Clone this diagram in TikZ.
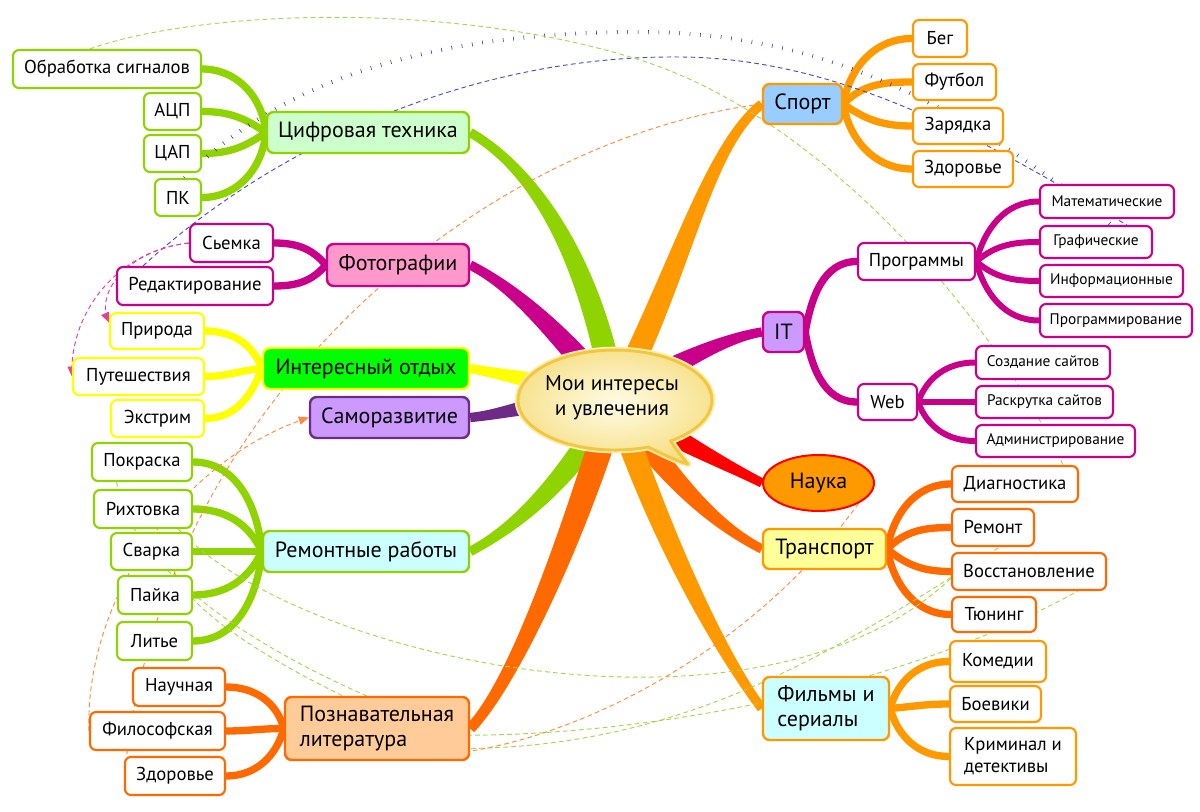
\documentclass[tikz,border=0pt]{standalone}
\usepackage{fontspec}
\setmainfont{PT Sans}
\usetikzlibrary{calc,shapes.geometric,arrows}

\definecolor{grn}{HTML}{8FD400}
\definecolor{mag}{HTML}{C8008A}
\definecolor{ylw}{HTML}{FFFF00}
\definecolor{prp}{HTML}{6E2A86}
\definecolor{org}{HTML}{FF9900}
\definecolor{drk}{HTML}{FF6A00}
\definecolor{scarlet}{HTML}{FF0000}
\definecolor{mint}{HTML}{CCFFCC}
\definecolor{rose}{HTML}{FF99CC}
\definecolor{neon}{HTML}{00FF00}
\definecolor{lilac}{HTML}{CC99FF}
\definecolor{ice}{HTML}{CCFFFF}
\definecolor{apricot}{HTML}{FFCC99}
\definecolor{sky}{HTML}{99CCFF}
\definecolor{cream}{HTML}{FFFF99}
\definecolor{relgrn}{HTML}{A5D64C}
\definecolor{relorg}{HTML}{FF8A3D}
\definecolor{relblu}{HTML}{4A4ACF}
\definecolor{dotblu}{HTML}{22229A}
\definecolor{relpnk}{HTML}{E0409A}
\definecolor{bubIn}{HTML}{FFFCE6}
\definecolor{bubOut}{HTML}{F7DF85}
\definecolor{bubLine}{HTML}{F3C63F}
\definecolor{bubGlow}{HTML}{FBEDB0}

% tapered main branch: colour, from, out angle, out length, to, in angle, in length, half width at from, half width at to
\newcommand{\limb}[9]{%
  \path (#2) ++(#3:#4) coordinate (limbA) (#5) ++(#6:#7) coordinate (limbB);
  \fill[#1] ($(#2)!#8!90:(limbA)$) .. controls ($(limbA)!#8!-90:(#2)$) and ($(limbB)!#9!90:(#5)$) .. ($(#5)!#9!-90:(limbB)$)
    -- ($(#5)!#9!90:(limbB)$) .. controls ($(limbB)!#9!-90:(#5)$) and ($(limbA)!#8!90:(#2)$) .. ($(#2)!#8!-90:(limbA)$) -- cycle;}

\pgfdeclarelayer{bg}
\pgfdeclarelayer{rel}
\pgfsetlayers{bg,rel,main}

\tikzset{
  topic/.style={draw=#1, line width=1.8pt, rounded corners=5pt, inner sep=2pt, font=\fontsize{16.5}{19}\selectfont},
  leaf/.style={draw=#1, fill=white, line width=1.6pt, rounded corners=4.5pt, inner sep=2pt, font=\fontsize{14}{16.5}\selectfont},
  small leaf/.style={leaf=#1, font=\fontsize{11.5}{13.5}\selectfont},
  twig/.style={draw=#1, line width=5.5pt},
  rel/.style={draw=#1, line width=0.7pt, dash pattern=on 3.5pt off 2.5pt},
  dots/.style={draw=dotblu, line width=3pt, dash pattern=on 0.4pt off 7.4pt},
  wh/.style 2 args={minimum width=#1*0.75pt, minimum height=#2*0.75pt},
}

\begin{document}
\begin{tikzpicture}[line cap=round,line join=round,>=triangle 45,x=0.75pt,y=0.75pt]
\useasboundingbox (0,0) rectangle (1200,-812);
\coordinate (hub) at (615,-400);

% left side
\node[topic=grn, fill=mint, wh={202}{41}] (cif) at (368,-132.5) {Цифровая техника};
\node[leaf=grn, wh={188}{38}] (obr) at (107,-69) {Обработка сигналов};
\node[leaf=grn, wh={57}{37}] (acp) at (172.5,-111.5) {АЦП};
\node[leaf=grn, wh={57}{37}] (cap) at (172.5,-153.5) {ЦАП};
\node[leaf=grn, wh={46}{37}] (pk) at (178,-197.5) {ПК};

\node[topic=mag, fill=rose, wh={142}{42}] (foto) at (398,-265) {Фотографии};
\node[leaf=mag, wh={83}{38}] (shoot) at (231.5,-243) {Сьемка};
\node[leaf=mag, wh={156}{38}] (edit) at (195,-286) {Редактирование};

\node[topic=ylw, fill=neon, wh={206}{41}] (otd) at (366,-368.5) {Интересный отдых};
\node[leaf=ylw, wh={94}{36}] (pri) at (157,-331) {Природа};
\node[leaf=ylw, wh={131}{37}] (put) at (138.5,-376.5) {Путешествия};
\node[leaf=ylw, wh={93}{37}] (eks) at (157.5,-418.5) {Экстрим};

\node[topic=prp, fill=lilac, wh={159}{41}] (sam) at (389.5,-417.5) {Саморазвитие};

\node[topic=grn, fill=ice, wh={206}{41}] (rem) at (366,-551.5) {Ремонтные работы};
\node[leaf=grn, wh={100}{38}] (pok) at (142,-462) {Покраска};
\node[leaf=grn, wh={98}{38}] (rih) at (143,-509) {Рихтовка};
\node[leaf=grn, wh={81}{37}] (sva) at (151.5,-551.5) {Сварка};
\node[leaf=grn, wh={74}{38}] (pay) at (155,-595) {Пайка};
\node[leaf=grn, wh={75}{38}] (lit) at (154.5,-641) {Литье};

\node[topic=drk, fill=apricot, wh={184}{63}, align=left] (poz) at (377,-728.5) {Познавательная\\литература};
\node[leaf=drk, wh={92}{38}] (nau) at (179,-687) {Научная};
\node[leaf=drk, wh={135}{38}] (fil) at (157.5,-731) {Философская};
\node[leaf=drk, wh={100}{38}] (zdl) at (175,-776) {Здоровье};

% right side
\node[topic=org, fill=sky, wh={79}{40}] (spo) at (802.5,-104) {Спорт};
\node[leaf=org, wh={54}{37}] (beg) at (940,-38.5) {Бег};
\node[leaf=org, wh={83}{36}] (fut) at (954.5,-82) {Футбол};
\node[leaf=org, wh={90}{36}] (zar) at (958,-126) {Зарядка};
\node[leaf=org, wh={100}{36}] (zds) at (963,-169) {Здоровье};

\node[topic=mag, fill=lilac, wh={41}{40}] (it) at (783.5,-332) {IT};
\node[leaf=mag, wh={117}{37}] (pro) at (916.5,-261.5) {Программы};
\node[small leaf=mag, wh={134}{33}] (mat) at (1107,-201.5) {Математические};
\node[small leaf=mag, wh={112}{32}] (gra) at (1096,-242) {Графические};
\node[small leaf=mag, wh={143}{32}] (inf) at (1111.5,-281) {Информационные};
\node[small leaf=mag, wh={152}{33}] (prg) at (1116,-320.5) {Программирование};
\node[leaf=mag, wh={59}{36}] (web) at (887.5,-402) {Web};
\node[small leaf=mag, wh={134}{33}] (soz) at (1043,-362.5) {Создание сайтов};
\node[small leaf=mag, wh={137}{32}] (ras) at (1044.5,-402) {Раскрутка сайтов};
\node[small leaf=mag, wh={159}{32}] (adm) at (1055.5,-441) {Администрирование};

\node[ellipse, draw=scarlet, fill=org, line width=1.5pt, wh={111}{56}, font=\fontsize{16.5}{19}\selectfont] (nauka) at (818.5,-483) {Наука};

\node[topic=org, fill=cream, wh={123}{40}] (tra) at (824.5,-549) {Транспорт};
\node[leaf=drk, wh={126}{36}] (dia) at (1015,-484) {Диагностика};
\node[leaf=drk, wh={82}{37}] (rmt) at (993,-527.5) {Ремонт};
\node[leaf=drk, wh={154}{37}] (vos) at (1029,-571.5) {Восстановление};
\node[leaf=drk, wh={84}{35}] (tyu) at (994,-614.5) {Тюнинг};

\node[topic=org, fill=ice, wh={126}{63}, align=left] (fsr) at (826,-708.5) {Фильмы и\\сериалы};
\node[leaf=org, wh={96}{41}] (kom) at (998,-661.5) {Комедии};
\node[leaf=org, wh={91}{36}] (boe) at (995.5,-704) {Боевики};
\node[leaf=org, wh={126}{57}, align=left] (kri) at (1013,-756.5) {Криминал и\\детективы};

\begin{pgfonlayer}{bg}
% main branches
\limb{grn}{cif.east}{-30}{70}{hub}{100}{150}{3.5pt}{9pt}
\limb{mag}{foto.east}{-27}{50}{hub}{130}{90}{3.5pt}{9pt}
\limb{ylw}{otd.east}{-10}{40}{hub}{166}{60}{3.5pt}{9pt}
\limb{prp}{sam.east}{5}{40}{hub}{175}{60}{3.5pt}{9pt}
\limb{grn}{rem.east}{28}{50}{hub}{239}{100}{3.5pt}{9pt}
\limb{drk}{poz.east}{46}{60}{hub}{253}{150}{4pt}{10pt}
\limb{org}{spo.west}{219}{70}{hub}{63}{150}{3.5pt}{9pt}
\limb{mag}{it.west}{189}{40}{hub}{32}{60}{3.5pt}{9pt}
\limb{scarlet}{nauka.west}{153}{40}{hub}{-35}{60}{3.5pt}{9pt}
\limb{drk}{tra.west}{153}{50}{hub}{-56}{100}{3.5pt}{9pt}
\limb{org}{fsr.west}{127}{60}{hub}{-72}{150}{3.5pt}{9pt}

% sub branches
\draw[twig=grn] (cif.west) to[out=95,in=0] (obr.east);
\draw[twig=grn] (cif.west) to[out=145,in=0] (acp.east);
\draw[twig=grn] (cif.west) to[out=215,in=0] (cap.east);
\draw[twig=grn] (cif.west) to[out=265,in=0] (pk.east);
\draw[twig=mag] (foto.west) to[out=130,in=0] (shoot.east);
\draw[twig=mag] (foto.west) to[out=230,in=0] (edit.east);
\draw[twig=ylw] (otd.west) to[out=110,in=0] (pri.east);
\draw[twig=ylw] (otd.west) to[out=185,in=0] (put.east);
\draw[twig=ylw] (otd.west) to[out=250,in=0] (eks.east);
\draw[twig=grn] (rem.west) to[out=95,in=0] (pok.east);
\draw[twig=grn] (rem.west) to[out=115,in=0] (rih.east);
\draw[twig=grn] (rem.west) to[out=180,in=0] (sva.east);
\draw[twig=grn] (rem.west) to[out=245,in=0] (pay.east);
\draw[twig=grn] (rem.west) to[out=265,in=0] (lit.east);
\draw[twig=drk] (poz.west) to[out=105,in=0] (nau.east);
\draw[twig=drk] (poz.west) to[out=180,in=0] (fil.east);
\draw[twig=drk] (poz.west) to[out=255,in=0] (zdl.east);
\draw[twig=org] (spo.east) to[out=80,in=180] (beg.west);
\draw[twig=org] (spo.east) to[out=45,in=180] (fut.west);
\draw[twig=org] (spo.east) to[out=-35,in=180] (zar.west);
\draw[twig=org] (spo.east) to[out=-80,in=180] (zds.west);
\draw[twig=mag] (it.east) to[out=80,in=180] (pro.west);
\draw[twig=mag] (it.east) to[out=-80,in=180] (web.west);
\draw[twig=mag, line width=4.5pt] (pro.east) to[out=75,in=180] (mat.west);
\draw[twig=mag, line width=4.5pt] (pro.east) to[out=40,in=180] (gra.west);
\draw[twig=mag, line width=4.5pt] (pro.east) to[out=-40,in=180] (inf.west);
\draw[twig=mag, line width=4.5pt] (pro.east) to[out=-75,in=180] (prg.west);
\draw[twig=mag, line width=4.5pt] (web.east) to[out=70,in=180] (soz.west);
\draw[twig=mag, line width=4.5pt] (web.east) to[out=0,in=180] (ras.west);
\draw[twig=mag, line width=4.5pt] (web.east) to[out=-70,in=180] (adm.west);
\draw[twig=drk] (tra.east) to[out=80,in=180] (dia.west);
\draw[twig=drk] (tra.east) to[out=45,in=180] (rmt.west);
\draw[twig=drk] (tra.east) to[out=-40,in=180] (vos.west);
\draw[twig=drk] (tra.east) to[out=-80,in=180] (tyu.west);
\draw[twig=org] (fsr.east) to[out=75,in=180] (kom.west);
\draw[twig=org] (fsr.east) to[out=5,in=180] (boe.west);
\draw[twig=org] (fsr.east) to[out=-75,in=180] (kri.west);
\end{pgfonlayer}

\begin{pgfonlayer}{rel}
% relationships
\draw[dots] ([xshift=5pt]pk.north) .. controls (300,-60) and (480,-32) .. (640,-32) .. controls (850,-32) and (1000,-130) .. (gra.south east);
\draw[rel=relblu] ([xshift=-39pt]edit.north) .. controls (280,-140) and (480,-55) .. (680,-57) .. controls (850,-58) and (1000,-150) .. ([xshift=23pt]gra.north);
\draw[rel=relgrn] ([xshift=-13pt]obr.north) .. controls (200,-10) and (450,0) .. (640,-60) .. controls (830,-120) and (1000,-330) .. ([xshift=36pt]dia.north);
\draw[rel=relgrn] ([xshift=-11pt]rih.south east) .. controls (300,-660) and (760,-760) .. ([yshift=-5pt]vos.west);
\draw[rel=relgrn] ([xshift=-19pt]pok.south) .. controls (130,-580) and (300,-680) .. ([yshift=-5pt]poz.east) .. controls (620,-735) and (880,-700) .. ([xshift=-22pt]vos.south east);
\draw[rel=relgrn] ([xshift=17pt]sva.south) .. controls (190,-620) and (330,-700) .. ([yshift=-15pt]poz.east) .. controls (700,-745) and (850,-640) .. ([xshift=5pt]rmt.south);
\draw[rel=relorg] (spo.west) .. controls (480,-140) and (170,-400) .. ([xshift=2pt]zdl.north west);
\draw[rel=relorg, ->] (fil.west) .. controls (85,-600) and (180,-460) .. (sam.west);
\draw[rel=relorg] (nauka.south east) .. controls (760,-640) and (600,-730) .. ([yshift=-17pt]poz.east);
\draw[rel=relpnk, ->] (shoot.west) .. controls (130,-250) and (95,-290) .. (pri.170);
\draw[rel=relpnk, ->] (shoot.west) .. controls (120,-250) and (70,-310) .. (put.west);
\end{pgfonlayer}

% central bubble
\shadedraw[inner color=bubIn, outer color=bubOut, draw=bubLine, line width=2.2pt, preaction={draw=bubGlow, line width=5pt}]
  (670.6,-441) arc[start angle=-55, end angle=290, x radius=97, y radius=50]
  .. controls (665,-455) and (676,-461) .. (688,-464) .. controls (681,-456) and (676,-449) .. cycle;
\node[font=\fontsize{16}{19}\selectfont, align=center] (core) at (612,-398) {Мои интересы\\и увлечения};
\end{tikzpicture}
\end{document}
